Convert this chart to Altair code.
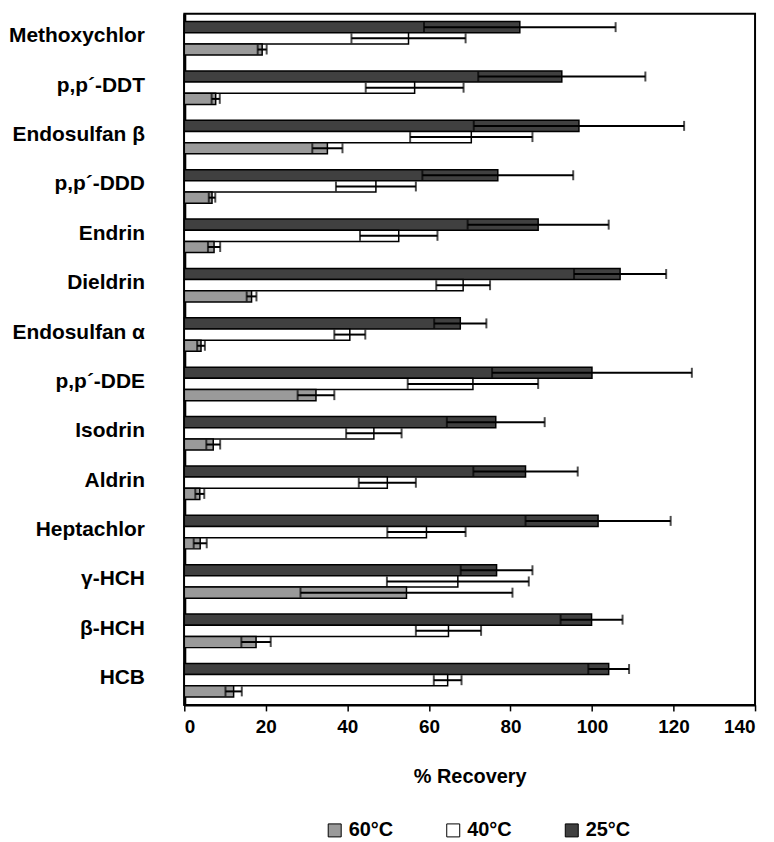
import altair as alt
import pandas as pd

compounds = ["Methoxychlor", "p,p´-DDT", "Endosulfan β", "p,p´-DDD", "Endrin", "Dieldrin",
             "Endosulfan α", "p,p´-DDE", "Isodrin", "Aldrin", "Heptachlor", "γ-HCH", "β-HCH", "HCB"]
temps = ["60°C", "40°C", "25°C"]

mean_25 = [82.3, 92.6, 96.8, 76.9, 86.8, 106.9, 67.7, 100.0, 76.4, 83.7, 101.5, 76.6, 99.9, 104.1]
sd_25 = [23.5, 20.5, 25.8, 18.5, 17.3, 11.3, 6.4, 24.5, 12.0, 12.8, 17.8, 8.8, 7.6, 5.0]
mean_40 = [55.0, 56.5, 70.4, 47.0, 52.6, 68.4, 40.6, 70.8, 46.5, 49.8, 59.4, 67.1, 64.8, 64.6]
sd_40 = [14.0, 12.0, 15.0, 9.8, 9.5, 6.6, 3.8, 16.0, 6.8, 7.0, 9.6, 17.4, 8.0, 3.4]
mean_60 = [19.1, 7.7, 35.1, 6.8, 7.3, 16.5, 4.1, 32.3, 7.1, 3.8, 3.9, 54.5, 17.6, 12.1]
sd_60 = [1.1, 1.0, 3.7, 0.8, 1.5, 1.2, 0.95, 4.5, 1.7, 1.1, 1.6, 26.0, 3.6, 2.0]

rows = []
for t, means, sds in [("25°C", mean_25, sd_25), ("40°C", mean_40, sd_40), ("60°C", mean_60, sd_60)]:
    for c, m, s in zip(compounds, means, sds):
        rows.append({"compound": c, "temp": t, "mean": m, "lo": m - s, "hi": m + s})
df = pd.DataFrame(rows)

FONT = "Liberation Sans"
XTITLE = "% Recovery"

base = alt.Chart(df).encode(
    y=alt.Y("compound:N", sort=compounds,
            scale=alt.Scale(paddingInner=0.32, paddingOuter=0.16),
            axis=alt.Axis(title=None, ticks=False, labelPadding=40, labelFontSize=21,
                          labelFont=FONT, labelFontWeight="bold", labelColor="black",
                          labelBaseline="middle", labelOffset=-2,
                          domainColor="black", domainWidth=3, minExtent=176, maxExtent=176,
                          labelLimit=300)),
    yOffset=alt.YOffset("temp:N", sort=["25°C", "40°C", "60°C"],
                        scale=alt.Scale(paddingInner=0, paddingOuter=0)),
)

xscale = alt.Scale(domain=[0, 140], nice=False)
xaxis = alt.Axis(values=[0, 20, 40, 60, 80, 100, 120, 140], grid=False, tickSize=6,
                 tickColor="black", tickWidth=1.5, labelFontSize=19, labelFont=FONT,
                 labelFontWeight="bold", labelColor="black", labelPadding=7,
                 titleFontSize=20, titleFont=FONT, titleFontWeight="bold",
                 titleColor="black", titlePadding=30, domainColor="black", domainWidth=2)

bars = base.mark_bar(stroke="black", strokeWidth=1.5).encode(
    x=alt.X("mean:Q", scale=xscale, axis=xaxis, title=XTITLE),
    color=alt.Color("temp:N",
                    scale=alt.Scale(domain=temps, range=["#9a9a9a", "#ffffff", "#404040"]),
                    legend=alt.Legend(orient="none", legendX=141, legendY=810,
                                      direction="horizontal", title=None,
                                      labelFontSize=20, labelFont=FONT,
                                      labelFontWeight="bold", labelColor="black",
                                      symbolType="square", symbolSize=170,
                                      symbolStrokeColor="black", symbolStrokeWidth=1,
                                      columnPadding=50, labelOffset=4)),
)

rule = base.mark_rule(color="black", strokeWidth=2).encode(
    x=alt.X("lo:Q", scale=xscale, title=XTITLE), x2="hi:Q")
cap_lo = base.mark_tick(color="black", thickness=2, size=10).encode(
    x=alt.X("lo:Q", scale=xscale, title=XTITLE))
cap_hi = base.mark_tick(color="black", thickness=2, size=10).encode(
    x=alt.X("hi:Q", scale=xscale, title=XTITLE))

chart = alt.layer(bars, rule, cap_lo, cap_hi).properties(
    width=573, height=694,
    padding={"left": 0, "top": 4, "right": 10, "bottom": 5},
).configure_view(stroke="black", strokeWidth=2)

chart.save("out.html", embed_options={"renderer": "svg", "actions": False})
